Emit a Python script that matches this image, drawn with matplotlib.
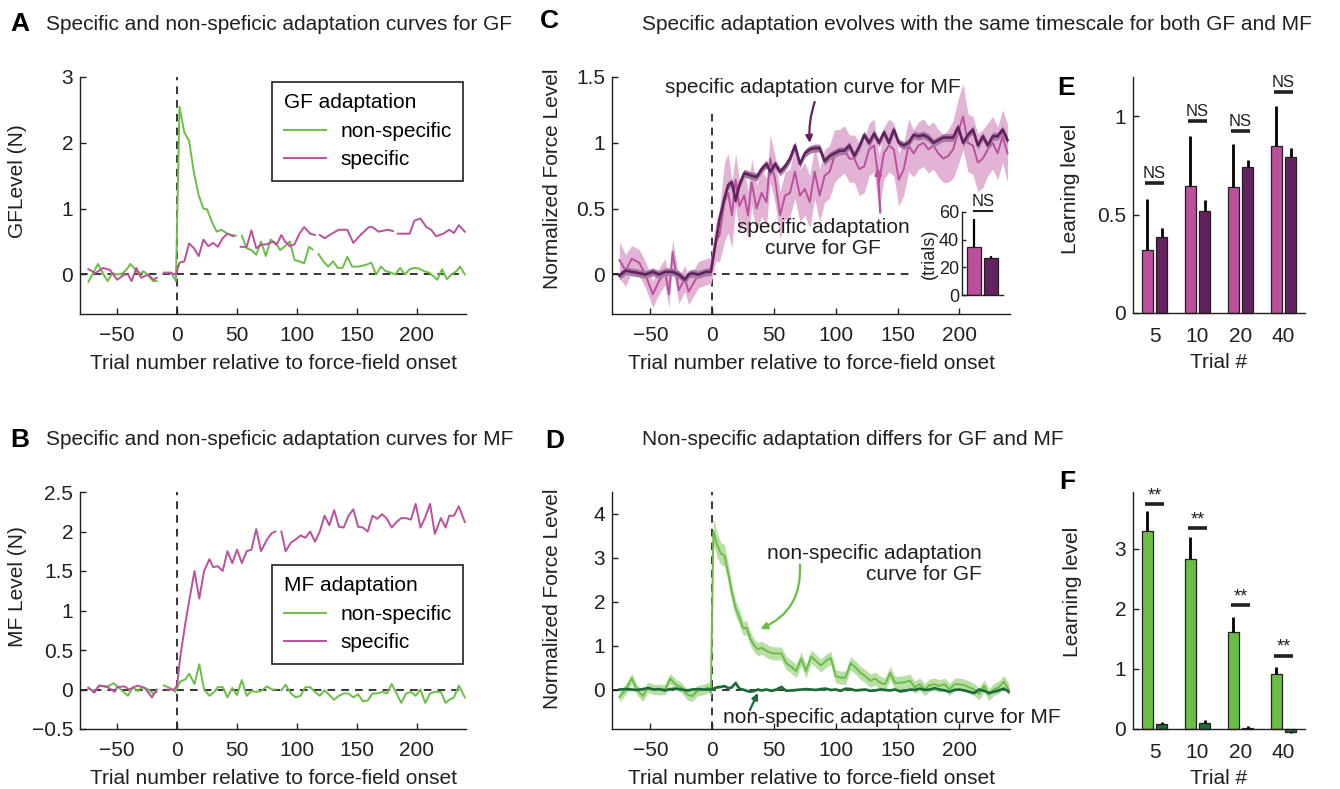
import numpy as np
import matplotlib
matplotlib.use("Agg")
import matplotlib.pyplot as plt

plt.rcParams['font.family'] = ['Liberation Sans', 'DejaVu Sans']

PINK = '#bb509e'
PINK_BAND = '#e2b3d5'
PURPLE = '#63215f'
PURPLE_BAND = '#a57aa2'
GREEN = '#6bbe45'
GREEN_BAND = '#b9dea6'
DKGREEN = '#1d6b38'
INK = '#231f20'
FS = 15

# ---- panel A: GF level (N), (trial, value); None marks a gap
A_NONSPEC = [(-74, -0.11), (-70, 0.02), (-66, 0.16), (-62, 0.02), (-58, -0.10), (-54, 0.02),
             (-50, 0.00), (-46, 0.01), (-42, 0.08), (-39, 0.16), (-35, 0.08), (-32, 0.00),
             (-28, 0.05), (-24, -0.02), (-20, -0.10), (-17, -0.10), (-14, None), (-11, 0.03),
             (-5, 0.03), (-1, -0.10), (2, 2.55), (6, 2.16), (10, 2.03), (14, 1.55), (18, 1.20),
             (22, 1.00), (25, 0.99), (29, 0.80), (33, 0.65), (37, 0.68), (41, 0.63), (45, 0.60),
             (49, 0.59), (51.5, None), (54, 0.59), (58, 0.40), (62, 0.37), (66, 0.30), (70, 0.50),
             (74, 0.28), (78, 0.53), (82, 0.48), (86, 0.37), (90, 0.43), (94, 0.50), (98, 0.22),
             (102, 0.20), (106, 0.17), (110, 0.42), (113, 0.38), (115.5, None), (118, 0.31),
             (122, 0.20), (126, 0.12), (130, 0.20), (134, 0.10), (138, 0.10), (142, 0.27),
             (146, 0.12), (150, 0.12), (154, 0.13), (158, 0.15), (162, 0.18), (166, 0.00),
             (170, 0.12), (174, 0.05), (178, 0.03), (182, 0.00), (186, 0.10), (190, 0.00),
             (194, 0.08), (198, 0.10), (202, 0.09), (206, 0.05), (210, 0.03), (214, -0.03),
             (217, -0.08), (221, 0.08), (225, -0.07), (229, 0.00), (233, 0.05), (236, 0.12),
             (240, 0.00)]
A_SPEC = [(-74, 0.08), (-68, 0.02), (-62, 0.10), (-56, 0.07), (-50, -0.08), (-44, 0.00),
          (-41, 0.00), (-38, -0.10), (-34, 0.10), (-30, -0.05), (-24, 0.00), (-20, -0.08),
          (-17, -0.05), (-14, None), (-11, 0.02), (-5, 0.02), (-1, 0.00), (2, 0.18), (6, 0.20),
          (10, 0.47), (14, 0.40), (18, 0.28), (22, 0.53), (26, 0.43), (30, 0.48), (34, 0.42),
          (38, 0.55), (42, 0.62), (47, 0.58), (50, None), (53, 0.42), (58, 0.42), (62, 0.67),
          (66, 0.40), (70, 0.45), (75, 0.46), (80, 0.50), (83, 0.45), (87, 0.60), (90, 0.50),
          (94, 0.43), (98, 0.46), (102, 0.62), (106, 0.72), (111, 0.62), (115, 0.60),
          (117, None), (119, 0.60), (123, 0.55), (129, 0.62), (135, 0.68), (142, 0.68),
          (147, 0.48), (153, 0.60), (160, 0.72), (163, 0.72), (168, 0.65), (176, 0.68),
          (180, 0.66), (182, None), (184, 0.62), (194, 0.62), (198, 0.82), (203, 0.85),
          (208, 0.72), (212, 0.68), (216, 0.58), (222, 0.62), (227, 0.68), (231, 0.63),
          (235, 0.75), (240, 0.65)]

# ---- panel B: MF level (N)
B_NONSPEC = [(-74, 0.02), (-69, -0.03), (-65, 0.05), (-59, 0.03), (-53, 0.08), (-47, 0.00),
             (-41, -0.08), (-37, 0.03), (-33, -0.02), (-29, 0.03), (-24, 0.00), (-20, -0.05),
             (-17, -0.03), (-14, None), (-11, 0.05), (-6, 0.02), (-1.5, -0.03), (2.5, 0.10),
             (7, 0.13), (10, 0.20), (14.5, 0.07), (18.5, 0.32), (22.5, 0.00), (27, -0.08),
             (31, -0.03), (34, 0.03), (38, 0.03), (42, -0.10), (46, 0.02), (50, -0.07),
             (54, 0.12), (58, -0.08), (62, -0.02), (66, -0.03), (70, -0.02), (75, 0.04),
             (79, 0.00), (82, 0.00), (84.5, None), (87, -0.01), (90.5, 0.06), (95, -0.05),
             (99, -0.10), (103, -0.08), (107, 0.03), (111, 0.03), (115, -0.03), (119, -0.08),
             (123, -0.01), (127, -0.07), (131, -0.13), (135, -0.08), (139, -0.05), (143, -0.05),
             (147, -0.10), (151, -0.06), (155, -0.15), (159, -0.14), (163, -0.05), (167, -0.05),
             (171, -0.03), (175, -0.05), (179, 0.07), (183, -0.05), (187, -0.17), (191, -0.05),
             (195, -0.03), (199, -0.08), (203, 0.00), (207, -0.17), (211, -0.05), (215, -0.03),
             (220, -0.03), (224, -0.17), (227, -0.13), (231, -0.10), (235, 0.05), (240, -0.10)]
B_SPEC = [(-74, 0.02), (-69, -0.04), (-65, 0.05), (-59, 0.04), (-52, -0.03), (-50, 0.03),
          (-44, 0.04), (-40, 0.00), (-33, 0.05), (-27, 0.02), (-21, -0.10), (-17, 0.00),
          (-12, None), (-8, 0.00), (-2.5, 0.00), (0, 0.05), (2.5, 0.40), (7, 0.85), (11, 1.20),
          (14.5, 1.50), (18.5, 1.15), (22.5, 1.50), (27, 1.65), (30, 1.55), (34, 1.56),
          (38, 1.50), (42, 1.75), (46, 1.60), (50, 1.77), (54, 1.60), (58, 1.75), (62, 1.77),
          (66, 2.03), (70, 1.75), (75, 1.90), (79, 1.98), (82, 2.00), (84.5, None), (87, 2.00),
          (90.5, 1.75), (95, 1.86), (99, 1.90), (103, 1.95), (107, 1.92), (111, 2.00),
          (115, 1.87), (119, 2.00), (123, 2.20), (127, 2.08), (131, 2.27), (135, 2.06),
          (139, 2.05), (143, 2.20), (147, 2.28), (151, 2.06), (155, 2.05), (159, 2.00),
          (163, 2.20), (167, 2.16), (171, 2.22), (175, 2.16), (179, 2.05), (183, 2.12),
          (187, 2.17), (191, 2.17), (195, 2.15), (199, 2.35), (203, 2.05), (207, 2.18),
          (211, 2.35), (215, 1.97), (220, 2.17), (224, 2.05), (227, 2.20), (231, 2.20),
          (235, 2.32), (240, 2.12)]

# ---- panel C: normalized specific adaptation (trial, GF mean, GF sem, MF mean, MF sem)
C_ROWS = [(-75, 0.11, 0.14, -0.01, 0.03), (-70, 0.03, 0.12, 0.03, 0.03),
          (-65, 0.12, 0.10, 0.02, 0.03), (-59, 0.09, 0.10, 0.01, 0.03),
          (-54, 0.00, 0.10, 0.00, 0.03), (-48, -0.15, 0.10, 0.02, 0.03),
          (-43, -0.05, 0.10, 0.00, 0.03), (-38, 0.02, 0.10, 0.02, 0.03),
          (-35, -0.15, 0.10, 0.02, 0.03), (-32, 0.17, 0.10, 0.02, 0.03),
          (-27, -0.12, 0.10, 0.00, 0.03), (-22, -0.03, 0.10, -0.04, 0.03),
          (-19, -0.13, 0.10, 0.00, 0.03), (-16, -0.08, 0.10, 0.01, 0.03),
          (-11, 0.00, 0.10, 0.00, 0.03), (-5, 0.02, 0.10, 0.02, 0.03),
          (-1, 0.03, 0.10, 0.02, 0.03), (3, 0.25, 0.15, 0.25, 0.03),
          (6, 0.30, 0.20, 0.42, 0.03), (10, 0.55, 0.30, 0.58, 0.03),
          (13, 0.62, 0.30, 0.68, 0.03), (16, 0.45, 0.25, 0.70, 0.03),
          (19, 0.72, 0.20, 0.56, 0.03), (22, 0.52, 0.20, 0.68, 0.03),
          (26, 0.60, 0.20, 0.77, 0.03), (29, 0.45, 0.18, 0.76, 0.03),
          (32, 0.70, 0.18, 0.75, 0.03), (36, 0.50, 0.18, 0.74, 0.03),
          (40, 0.62, 0.18, 0.80, 0.03), (44, 0.55, 0.18, 0.84, 0.03),
          (47, 0.88, 0.18, 0.78, 0.03), (51, 0.72, 0.18, 0.84, 0.03),
          (55, 0.45, 0.18, 0.78, 0.03), (59, 0.60, 0.18, 0.82, 0.03),
          (63, 0.62, 0.18, 0.88, 0.03), (67, 0.78, 0.20, 0.98, 0.03),
          (71, 0.60, 0.20, 0.84, 0.03), (75, 0.65, 0.20, 0.92, 0.03),
          (79, 0.55, 0.20, 0.95, 0.03), (83, 0.78, 0.20, 0.96, 0.03),
          (87, 0.60, 0.20, 0.96, 0.03), (91, 0.75, 0.20, 0.86, 0.03),
          (95, 0.78, 0.20, 0.90, 0.03), (99, 0.90, 0.20, 0.92, 0.03),
          (103, 0.92, 0.18, 0.94, 0.03), (107, 0.95, 0.18, 0.94, 0.03),
          (111, 0.88, 0.18, 0.98, 0.03), (115, 0.88, 0.18, 0.90, 0.03),
          (119, 0.80, 0.20, 0.97, 0.03), (123, 0.82, 0.20, 1.06, 0.03),
          (127, 0.95, 0.20, 1.00, 0.03), (131, 0.98, 0.20, 1.07, 0.03),
          (135, 0.70, 0.20, 1.00, 0.03), (139, 0.92, 0.20, 1.08, 0.03),
          (143, 0.98, 0.20, 1.00, 0.03), (147, 0.95, 0.20, 1.10, 0.03),
          (151, 0.72, 0.20, 1.00, 0.03), (155, 0.80, 0.20, 0.98, 0.03),
          (159, 0.98, 0.20, 1.00, 0.03), (163, 0.92, 0.18, 1.06, 0.03),
          (167, 0.98, 0.18, 1.05, 0.03), (171, 1.00, 0.18, 1.06, 0.03),
          (175, 0.95, 0.18, 1.04, 0.03), (179, 0.98, 0.18, 1.00, 0.03),
          (183, 0.92, 0.18, 1.02, 0.03), (187, 0.88, 0.18, 1.04, 0.03),
          (191, 0.90, 0.20, 1.04, 0.03), (195, 0.95, 0.22, 1.04, 0.03),
          (199, 1.08, 0.25, 1.12, 0.03), (203, 1.20, 0.25, 1.00, 0.03),
          (207, 1.00, 0.22, 1.06, 0.03), (211, 0.98, 0.22, 1.10, 0.03),
          (215, 0.85, 0.22, 0.98, 0.03), (219, 0.88, 0.22, 1.05, 0.03),
          (223, 0.95, 0.20, 0.98, 0.03), (227, 1.00, 0.20, 1.05, 0.03),
          (231, 0.92, 0.20, 1.05, 0.03), (235, 1.05, 0.20, 1.10, 0.03),
          (239, 0.92, 0.22, 1.02, 0.03)]

# inset of C: time constant (trials)
C_TAU = [35.0, 26.5]
C_TAU_ERR = [20.0, 2.0]
C_TAU_COLORS = [PINK, PURPLE]

# ---- panel D: normalized non-specific adaptation (trial, GF mean, GF sem, MF mean, MF sem)
D_ROWS = [(-75, -0.17, 0.12, 0.00, 0.02), (-70, 0.00, 0.12, 0.01, 0.02),
          (-65, 0.25, 0.12, 0.00, 0.02), (-61, 0.00, 0.12, -0.01, 0.02),
          (-56, -0.15, 0.12, 0.01, 0.02), (-52, 0.05, 0.12, 0.03, 0.02),
          (-47, 0.00, 0.12, 0.00, 0.02), (-43, 0.00, 0.12, 0.01, 0.02),
          (-38, 0.00, 0.12, -0.02, 0.02), (-34, 0.25, 0.12, 0.01, 0.02),
          (-29, 0.10, 0.12, 0.02, 0.02), (-25, 0.05, 0.12, 0.00, 0.02),
          (-20, -0.12, 0.12, -0.02, 0.02), (-16, -0.15, 0.12, 0.00, 0.02),
          (-12, -0.03, 0.12, 0.01, 0.02), (-7, 0.00, 0.12, 0.00, 0.02),
          (-3, 0.05, 0.12, 0.00, 0.02), (-1, -0.07, 0.12, 0.00, 0.02),
          (1, 3.60, 0.30, 0.02, 0.02), (4, 3.30, 0.28, 0.05, 0.02),
          (7, 3.10, 0.25, 0.06, 0.02), (10, 3.05, 0.25, 0.08, 0.02),
          (13, 2.65, 0.22, 0.03, 0.02), (16, 2.20, 0.20, 0.05, 0.02),
          (19, 1.85, 0.18, 0.15, 0.02), (22, 1.65, 0.18, 0.02, 0.02),
          (25, 1.40, 0.16, 0.00, 0.02), (28, 1.40, 0.16, -0.03, 0.02),
          (31, 1.15, 0.15, -0.05, 0.02), (34, 1.00, 0.15, -0.03, 0.02),
          (37, 0.92, 0.15, 0.00, 0.02), (40, 0.95, 0.15, -0.02, 0.02),
          (44, 0.88, 0.15, 0.00, 0.02), (48, 0.83, 0.15, -0.03, 0.02),
          (52, 0.82, 0.15, 0.00, 0.02), (56, 0.82, 0.15, 0.06, 0.02),
          (60, 0.60, 0.15, -0.03, 0.02), (64, 0.52, 0.15, -0.02, 0.02),
          (68, 0.42, 0.15, -0.01, 0.02), (72, 0.70, 0.15, 0.00, 0.02),
          (76, 0.42, 0.15, 0.01, 0.02), (80, 0.75, 0.15, 0.00, 0.02),
          (84, 0.65, 0.15, -0.01, 0.02), (88, 0.55, 0.15, 0.01, 0.02),
          (92, 0.65, 0.15, 0.02, 0.02), (96, 0.72, 0.15, -0.01, 0.02),
          (100, 0.30, 0.15, 0.00, 0.02), (104, 0.27, 0.15, -0.03, 0.02),
          (108, 0.27, 0.15, 0.02, 0.02), (112, 0.60, 0.15, 0.01, 0.02),
          (116, 0.50, 0.15, -0.02, 0.02), (120, 0.38, 0.15, -0.01, 0.02),
          (124, 0.30, 0.15, 0.00, 0.02), (128, 0.20, 0.15, -0.03, 0.02),
          (132, 0.25, 0.15, -0.02, 0.02), (136, 0.15, 0.15, 0.00, 0.02),
          (140, 0.12, 0.15, -0.01, 0.02), (144, 0.38, 0.15, -0.02, 0.02),
          (148, 0.15, 0.15, 0.00, 0.02), (152, 0.15, 0.15, -0.04, 0.02),
          (156, 0.17, 0.15, -0.03, 0.02), (160, 0.20, 0.15, 0.00, 0.02),
          (164, 0.05, 0.14, -0.01, 0.02), (168, 0.12, 0.14, 0.02, 0.02),
          (172, 0.00, 0.14, -0.01, 0.02), (176, 0.10, 0.14, 0.00, 0.02),
          (180, 0.12, 0.14, 0.03, 0.02), (184, 0.08, 0.14, 0.00, 0.02),
          (188, 0.12, 0.14, -0.02, 0.02), (192, 0.00, 0.14, -0.05, 0.02),
          (196, 0.12, 0.14, -0.01, 0.02), (200, 0.12, 0.14, 0.00, 0.02),
          (204, 0.10, 0.14, -0.02, 0.02), (208, 0.05, 0.14, -0.05, 0.02),
          (212, 0.00, 0.14, -0.08, 0.02), (216, -0.10, 0.14, 0.00, 0.02),
          (220, 0.08, 0.14, -0.03, 0.02), (224, -0.12, 0.14, -0.08, 0.02),
          (228, 0.00, 0.14, -0.05, 0.02), (232, 0.05, 0.14, -0.02, 0.02),
          (236, 0.18, 0.14, 0.02, 0.02), (240, 0.00, 0.14, -0.05, 0.02)]

# ---- panels E, F: learning level at trial #
TRIAL_LABELS = ['5', '10', '20', '40']
E_GF = [0.32, 0.645, 0.64, 0.85]
E_GF_ERR = [0.26, 0.255, 0.22, 0.205]
E_MF = [0.385, 0.52, 0.74, 0.795]
E_MF_ERR = [0.045, 0.055, 0.04, 0.045]
E_SIG = ['NS', 'NS', 'NS', 'NS']
E_SIG_Y = [0.66, 0.975, 0.926, 1.123]

F_GF = [3.29, 2.83, 1.61, 0.91]
F_GF_ERR = [0.33, 0.36, 0.26, 0.12]
F_MF = [0.08, 0.105, 0.02, -0.05]
F_MF_ERR = [0.03, 0.05, 0.025, -0.02]
F_SIG = ['**', '**', '**', '**']
F_SIG_Y = [3.74, 3.34, 2.06, 1.22]

W, H = 1340, 789


def rect(l, t, r, b):
    return [l / W, 1 - b / H, (r - l) / W, (b - t) / H]


def xy(rows):
    a = np.array([(t, np.nan if v is None else v) for t, v in rows], float)
    return a[:, 0], a[:, 1]


def lab(v):
    return ('%g' % v).replace('-', '\u2212')


def base(ax, ylim, yticks):
    for s in ('top', 'right'):
        ax.spines[s].set_visible(False)
    for s in ('left', 'bottom'):
        ax.spines[s].set_linewidth(1.0)
        ax.spines[s].set_color(INK)
    ax.tick_params(direction='in', length=4, width=1.0, colors=INK, labelsize=FS)
    ax.tick_params(axis='y', pad=5)
    ax.tick_params(axis='x', pad=9)
    ax.set_ylim(*ylim)
    ax.set_yticks(yticks, [lab(v) for v in yticks])


def time_axis(ax, ylim, yticks, ylabel, lx, ly, hline_end=240, vtop=1.0):
    base(ax, ylim, yticks)
    ax.set_xlim(-81, 241)
    xt = [-50, 0, 50, 100, 150, 200]
    ax.set_xticks(xt, [lab(v) for v in xt])
    ax.axvline(0, ymax=vtop, color='k', ls=(0, (5, 4)), lw=1.1, zorder=1)
    ax.plot([-81, hline_end], [0, 0], color='k', ls=(0, (5, 4)), lw=1.1, zorder=1)
    ax.set_xlabel('Trial number relative to force-field onset', fontsize=FS, color=INK, labelpad=6)
    ax.set_ylabel(ylabel, fontsize=FS, color=INK)
    ax.yaxis.set_label_coords(lx, ly)


def legend(ax, title, anchor):
    lg = ax.legend(title=title, loc='upper right', bbox_to_anchor=anchor, fontsize=FS,
                   title_fontsize=FS, frameon=True, fancybox=False, framealpha=1,
                   edgecolor=INK, handlelength=2.0, handletextpad=0.7, borderpad=0.55,
                   labelspacing=0.45, alignment='left', borderaxespad=0)
    lg.get_frame().set_linewidth(1.2)


fig = plt.figure(figsize=(W / 100, H / 100), dpi=100)

# ---------- A
axA = fig.add_axes(rect(80, 77, 466, 314))
time_axis(axA, (-0.6, 3), [0, 1, 2, 3], 'GFLevel (N)', -0.137, 0.56)
x, y = xy(A_NONSPEC)
axA.plot(x, y, color=GREEN, lw=1.4, label='non-specific')
x, y = xy(A_SPEC)
axA.plot(x, y, color=PINK, lw=1.4, label='specific')
legend(axA, 'GF adaptation', (0.992, 0.979))

# ---------- B
axB = fig.add_axes(rect(80, 492, 466, 729))
time_axis(axB, (-0.5, 2.5), [-0.5, 0, 0.5, 1, 1.5, 2, 2.5], 'MF Level (N)', -0.137, 0.6)
x, y = xy(B_NONSPEC)
axB.plot(x, y, color=GREEN, lw=1.4, label='non-specific')
x, y = xy(B_SPEC)
axB.plot(x, y, color=PINK, lw=1.4, label='specific')
legend(axB, 'MF adaptation', (0.992, 0.692))

# ---------- C
axC = fig.add_axes(rect(612, 77, 1010, 314))
time_axis(axC, (-0.3, 1.5), [0, 0.5, 1, 1.5], 'Normalized Force Level', -0.126, 0.57,
          hline_end=163, vtop=0.85)
c = np.array(C_ROWS)
axC.fill_between(c[:, 0], c[:, 1] - c[:, 2], c[:, 1] + c[:, 2], color=PINK_BAND, lw=0, zorder=2)
axC.plot(c[:, 0], c[:, 1], color=PINK, lw=1.4, zorder=3)
axC.fill_between(c[:, 0], c[:, 3] - c[:, 4], c[:, 3] + c[:, 4], color=PURPLE_BAND, lw=0, zorder=4)
axC.plot(c[:, 0], c[:, 3], color=PURPLE, lw=1.9, zorder=5)
axC.text(81.5, 1.42, 'specific adaptation curve for MF', ha='center', va='center',
         fontsize=FS, color=INK, zorder=6)
axC.annotate('', xy=(79, 1.0), xytext=(83, 1.31),
             arrowprops=dict(arrowstyle='-|>', color=PURPLE, lw=1.6, mutation_scale=10,
                             connectionstyle='arc3,rad=0.1', shrinkA=0, shrinkB=0))
axC.text(90, 0.28, 'specific adaptation\ncurve for GF', ha='center', va='center',
         fontsize=FS, color=INK, linespacing=1.15, zorder=6)
axC.annotate('', xy=(134, 0.81), xytext=(136, 0.47),
             arrowprops=dict(arrowstyle='-|>', color=PINK, lw=1.6, mutation_scale=10,
                             shrinkA=0, shrinkB=0))

axI = fig.add_axes(rect(962, 212, 1003, 295))
base(axI, (0, 60), [0, 20, 40, 60])
axI.tick_params(labelsize=13, pad=2, length=3)
axI.set_xlim(0.28, 2.74)
axI.set_xticks([])
axI.bar([1, 2], C_TAU, 0.84, color=C_TAU_COLORS, edgecolor=INK, lw=0.9, zorder=2)
axI.vlines([1, 2], C_TAU, np.add(C_TAU, C_TAU_ERR), color='k', lw=1.6, zorder=3)
axI.set_ylabel('(trials)', fontsize=13, color=INK, labelpad=1)
axI.plot([1.0, 2.06], [61, 61], color=INK, lw=1.5, clip_on=False)
axI.text(1.52, 62, 'NS', ha='center', va='bottom', fontsize=12, color=INK)
axI.patch.set_alpha(0)

# ---------- D
axD = fig.add_axes(rect(612, 492, 1010, 729))
time_axis(axD, (-0.9, 4.5), [0, 1, 2, 3, 4], 'Normalized Force Level', -0.126, 0.55)
d = np.array(D_ROWS)
axD.fill_between(d[:, 0], d[:, 1] - d[:, 2], d[:, 1] + d[:, 2], color=GREEN_BAND, lw=0, zorder=2)
axD.plot(d[:, 0], d[:, 1], color=GREEN, lw=1.4, zorder=3)
axD.fill_between(d[:, 0], d[:, 3] - d[:, 4], d[:, 3] + d[:, 4], color='#8fb89b', lw=0, zorder=4)
axD.plot(d[:, 0], d[:, 3], color=DKGREEN, lw=1.9, zorder=5)
axD.text(218, 2.86, 'non-specific adaptation\ncurve for GF', ha='right', va='center',
         multialignment='right', fontsize=FS, color=INK, linespacing=1.15)
axD.annotate('', xy=(39, 1.38), xytext=(71, 2.85),
             arrowprops=dict(arrowstyle='-|>', color=GREEN, lw=1.6, mutation_scale=10,
                             connectionstyle='arc3,rad=-0.35', shrinkA=0, shrinkB=0))
axD.text(9, -0.63, 'non-specific adaptation curve for MF', ha='left', va='center',
         fontsize=FS, color=INK, clip_on=False, zorder=6)
axD.annotate('', xy=(37, -0.08), xytext=(30.5, -0.47),
             arrowprops=dict(arrowstyle='-|>', color=DKGREEN, lw=1.6, mutation_scale=9,
                             shrinkA=0, shrinkB=0))


# ---------- E, F
def bars(ax, a, a_err, b, b_err, ca, cb, sig, sig_y, ylim, yticks, sig_size, sig_off, lx, ly):
    base(ax, ylim, yticks)
    ax.set_xlim(-0.5, 3.5)
    x = np.arange(len(TRIAL_LABELS))
    ax.set_xticks(x, TRIAL_LABELS)
    ax.tick_params(axis='x', length=0, pad=10)
    ax.bar(x - 0.165, a, 0.27, color=ca, edgecolor=INK, lw=0.9, zorder=2, clip_on=False)
    ax.bar(x + 0.165, b, 0.27, color=cb, edgecolor=INK, lw=0.9, zorder=2, clip_on=False)
    ax.vlines(x - 0.165, a, np.add(a, a_err), color='k', lw=2.0, zorder=3)
    ax.vlines(x + 0.165, b, np.add(b, b_err), color='k', lw=2.0, zorder=3, clip_on=False)
    for xc, s, h in zip(x, sig, sig_y):
        ax.plot([xc - 0.23, xc + 0.23], [h, h], color=INK, lw=2.6, clip_on=False,
                solid_capstyle='butt')
        ax.text(xc, h + sig_off, s, ha='center', va='bottom', fontsize=sig_size, color=INK)
    ax.set_xlabel('Trial #', fontsize=FS, color=INK, labelpad=5)
    ax.set_ylabel('Learning level', fontsize=FS, color=INK)
    ax.yaxis.set_label_coords(lx, ly)


axE = fig.add_axes(rect(1133, 77, 1305, 313))
bars(axE, E_GF, E_GF_ERR, E_MF, E_MF_ERR, PINK, PURPLE, E_SIG, E_SIG_Y,
     (0, 1.2), [0, 0.5, 1], 12, 0.012, -0.308, 0.525)

axF = fig.add_axes(rect(1133, 492, 1305, 729))
bars(axF, F_GF, F_GF_ERR, F_MF, F_MF_ERR, GREEN, DKGREEN, F_SIG, F_SIG_Y,
     (0, 3.94), [0, 1, 2, 3], 13, 0.0, -0.297, 0.58)

# ---------- titles and panel letters
PANEL_LETTERS = {'A': (10, 24), 'B': (10, 440), 'C': (540, 21),
                 'D': (545, 441), 'E': (1057, 88), 'F': (1059, 482)}
for letter, (lx, ly) in PANEL_LETTERS.items():
    fig.text(lx / W, 1 - ly / H, letter, fontsize=19, fontweight='bold',
             va='center', ha='left', color='k')

TITLES = [(46, 25, 'Specific and non-speficic adaptation curves for GF'),
          (46, 440, 'Specific and non-speficic adaptation curves for MF'),
          (642, 25, 'Specific adaptation evolves with the same timescale for both GF and MF'),
          (642, 440, 'Non-specific adaptation differs for GF and MF')]
for px, py, s in TITLES:
    fig.text(px / W, 1 - py / H, s, va='center', ha='left', fontsize=FS, color=INK)

fig.savefig('out.png', dpi=100)
